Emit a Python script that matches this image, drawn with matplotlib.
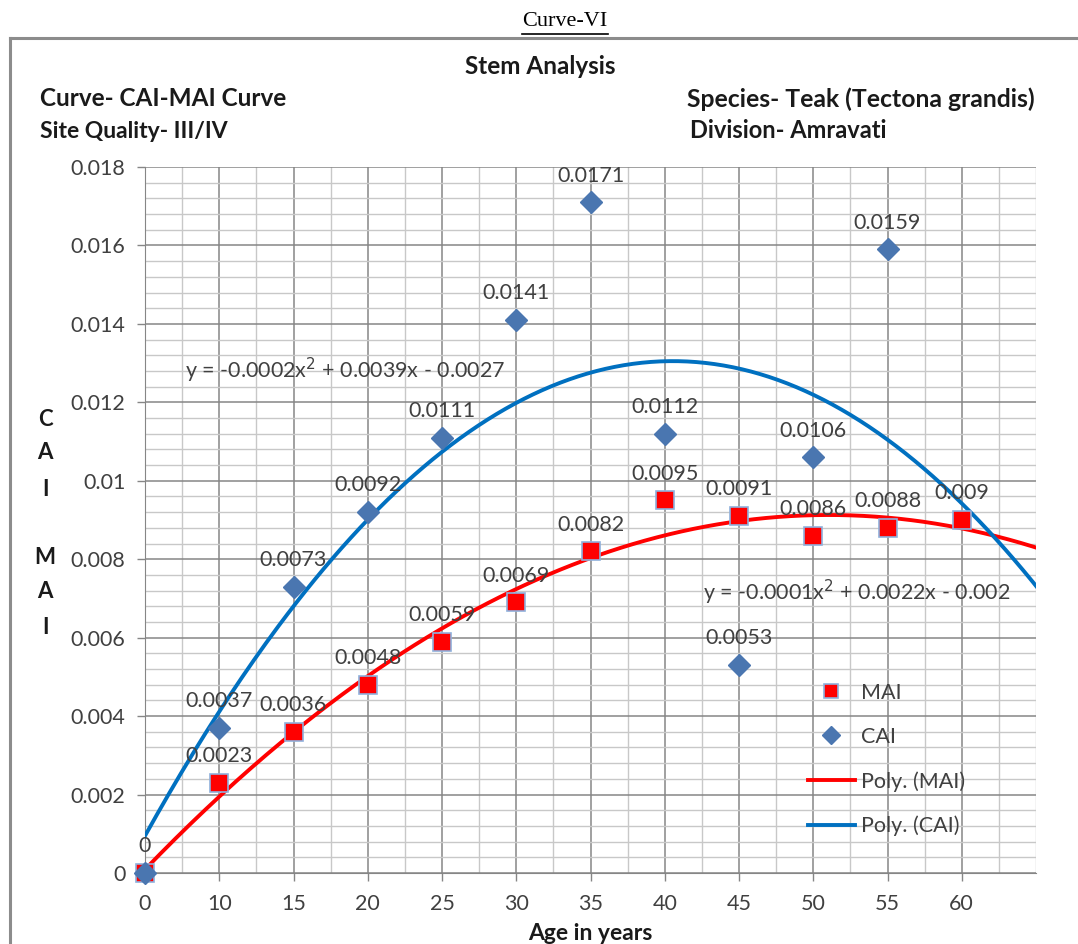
import matplotlib
matplotlib.use("Agg")
import matplotlib.pyplot as plt
import numpy as np
from matplotlib.lines import Line2D
from matplotlib.ticker import MultipleLocator

plt.rcParams["font.family"] = ["Lato", "DejaVu Sans"]

# Data
ages = ["0", "10", "15", "20", "25", "30", "35", "40", "45", "50", "55", "60"]
mai = [0, 0.0023, 0.0036, 0.0048, 0.0059, 0.0069, 0.0082, 0.0095, 0.0091, 0.0086, 0.0088, 0.009]
cai = [0, 0.0037, 0.0073, 0.0092, 0.0111, 0.0141, 0.0171, 0.0112, 0.0053, 0.0106, 0.0159]
y_ticks = [0, 0.002, 0.004, 0.006, 0.008, 0.01, 0.012, 0.014, 0.016, 0.018]
y_tick_labels = ["0", "0.002", "0.004", "0.006", "0.008", "0.01", "0.012", "0.014", "0.016", "0.018"]

RED = "#ff0000"
BLUE_MK = "#4a76b0"
BLUE_LN = "#0070c0"
TXT = "#404040"
FS = 15.5

fig = plt.figure(figsize=(10.78, 9.44), dpi=100)
W, H = 1078, 944

# chart frame (grey border, like the Excel chart area)
fig.add_artist(Line2D([10 / W, 1.0], [1 - 38 / H, 1 - 38 / H], color="#8c8c8c", lw=2.2))
fig.add_artist(Line2D([10 / W, 10 / W], [0, 1 - 38 / H], color="#8c8c8c", lw=2.2))

ax = fig.add_axes([145 / W, 1 - 873 / H, (1036 - 145) / W, (873 - 167) / H])

# Excel-style category positions 1..n
xm = np.arange(1, len(mai) + 1)
xc = np.arange(1, len(cai) + 1)

# polynomial (order 2) trendlines, forecast forward 1 period
pm = np.polyfit(xm, mai, 2)
pc = np.polyfit(xc, cai, 2)
xs = np.linspace(1, 13.2, 300)
ax.plot(xs, np.polyval(pm, xs), color=RED, lw=2.8, zorder=3, label="Poly. (MAI)")
ax.plot(xs, np.polyval(pc, xs), color=BLUE_LN, lw=2.8, zorder=3, label="Poly. (CAI)")

ax.plot(xm, mai, ls="none", marker="s", ms=13, mfc=RED, mec="#8fb0dc", mew=1.2,
        zorder=4, clip_on=False, label="MAI")
ax.plot(xc, cai, ls="none", marker="D", ms=11, mfc=BLUE_MK, mec=BLUE_MK,
        zorder=5, clip_on=False, label="CAI")

# data labels
for x, v in zip(xm, mai):
    if v == 0:
        continue
    ax.annotate(f"{v:g}", (x, v), xytext=(0, 12), textcoords="offset points",
                ha="center", va="bottom", fontsize=FS, color=TXT, zorder=6)
for x, v in zip(xc, cai):
    ax.annotate(f"{v:g}", (x, v), xytext=(0, 12), textcoords="offset points",
                ha="center", va="bottom", fontsize=FS, color=TXT, zorder=6)

ax.set_xlim(1, 13)
ax.set_ylim(0, 0.018)
ax.set_xticks(xm)
ax.set_xticklabels(ages)
ax.xaxis.set_minor_locator(MultipleLocator(0.5))
ax.set_yticks(y_ticks)
ax.set_yticklabels(y_tick_labels)
ax.yaxis.set_minor_locator(MultipleLocator(0.0004))
ax.tick_params(axis="both", which="major", labelsize=FS, labelcolor=TXT,
               color="#868686", length=6, width=1)
ax.tick_params(axis="x", which="major", pad=9)
ax.tick_params(axis="y", which="major", pad=8)
ax.tick_params(which="minor", length=0)
ax.grid(which="major", color="#868686", lw=1.1)
ax.grid(which="minor", color="#c8c8c8", lw=1.0)
ax.set_axisbelow(True)
for side in ["top", "right"]:
    ax.spines[side].set_visible(False)
for side in ["left", "bottom"]:
    ax.spines[side].set_color("#868686")

# trendline equations
ax.text(0.045, 0.712, "y = -0.0002x$^2$ + 0.0039x - 0.0027", transform=ax.transAxes,
        fontsize=FS, color=TXT, va="center", ha="left")
ax.text(0.626, 0.397, "y = -0.0001x$^2$ + 0.0022x - 0.002", transform=ax.transAxes,
        fontsize=FS, color=TXT, va="center", ha="left")

handles, labels = ax.get_legend_handles_labels()
order = [2, 3, 0, 1]
ax.legend([handles[i] for i in order], [labels[i] for i in order],
          loc="upper left", bbox_to_anchor=(0.722, 0.297), frameon=False,
          fontsize=FS, labelspacing=1.12, handlelength=2.2, handletextpad=0.3,
          labelcolor=TXT, markerscale=0.8)

# titles and headings
HD = "#1a1a1a"
fig.text(565 / W, 1 - 21 / H, "Curve-VI", ha="center", va="center",
         fontsize=16, family=["Liberation Serif", "DejaVu Serif"])
fig.add_artist(Line2D([522 / W, 608 / W], [1 - 34 / H, 1 - 34 / H], color="black", lw=1.2))
fig.text(540 / W, 1 - 67 / H, "Stem Analysis", ha="center", va="center",
         fontsize=17.5, fontweight="bold", color=HD)
fig.text(40 / W, 1 - 99 / H, "Curve- CAI-MAI Curve", ha="left", va="center",
         fontsize=17.5, fontweight="bold", color=HD)
fig.text(40 / W, 1 - 131 / H, "Site Quality- III/IV", ha="left", va="center",
         fontsize=16.5, fontweight="bold", color=HD)
fig.text(687 / W, 1 - 99 / H, "Species- Teak (Tectona grandis)", ha="left", va="center",
         fontsize=17.8, fontweight="bold", color=HD)
fig.text(690 / W, 1 - 131 / H, "Division- Amravati", ha="left", va="center",
         fontsize=17, fontweight="bold", color=HD)

# stacked vertical axis title
for ch, yp in zip("CAIMAI", [420, 452, 489, 558, 592, 628]):
    fig.text(45 / W, 1 - yp / H, ch, ha="center", va="center",
             fontsize=16, fontweight="bold", color=HD)

fig.text(590 / W, 1 - 933 / H, "Age in years", ha="center", va="center",
         fontsize=16.5, fontweight="bold", color=HD)

fig.savefig("out.png", dpi=100)
